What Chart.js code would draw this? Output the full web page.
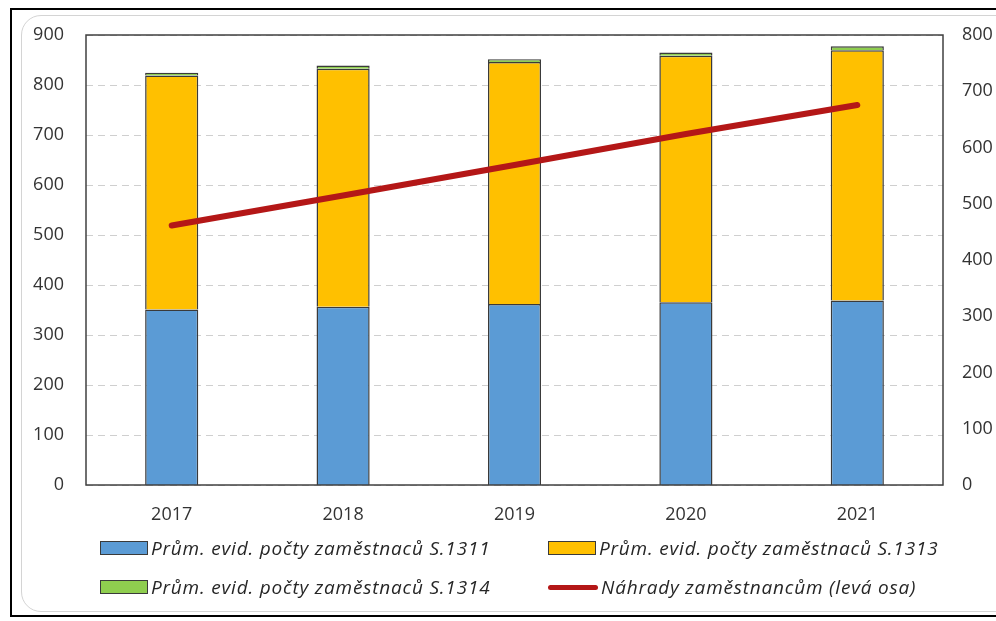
<!DOCTYPE html>
<html>
<head>
<meta charset="utf-8">
<script src="https://cdn.jsdelivr.net/npm/chart.js@4/dist/chart.umd.min.js"></script>
<style>
  html, body { margin: 0; padding: 0; background: #fff; overflow: hidden; }
  #wrap { position: relative; width: 996px; height: 621px; }
  .outer { position: absolute; left: 10px; top: 8px; width: 1000px; height: 609px; border: 2px solid #000; box-sizing: border-box; }
  .inner { position: absolute; left: 21px; top: 15px; width: 1000px; height: 597px; border: 1px solid #d4d4d4; border-radius: 20px; box-sizing: border-box; }
  canvas { position: absolute; left: 0; top: 0; }
  #legend { position: absolute; left: 0; top: 0; width: 996px; font-family: "Open Sans", sans-serif; font-style: italic; font-size: 19px; letter-spacing: 0.8px; color: #262626; }
  .item { position: absolute; display: flex; align-items: center; white-space: nowrap; }
  .box { width: 48px; height: 14px; border: 1.5px solid #3a3a3a; margin-right: 3px; box-sizing: border-box; }
  .ln { width: 50px; height: 5px; border-radius: 3px; margin-right: 3px; }
</style>
</head>
<body>
<div id="wrap">
  <div class="outer"></div>
  <div class="inner"></div>
  <canvas id="chart" width="996" height="621"></canvas>
  <div id="legend"></div>
</div>
<script>
// Roky a hodnoty
const roky = ['2017', '2018', '2019', '2020', '2021'];
const s1311 = [312, 317, 322, 325, 328];
const s1313 = [416, 423, 430, 438, 445];
const s1314 = [5, 6, 5, 6, 7];
const nahrady = [519, 579, 640, 702, 760];

const nazvy = [
    'Prům. evid. počty zaměstnaců S.1311',
    'Prům. evid. počty zaměstnaců S.1313',
    'Prům. evid. počty zaměstnaců S.1314',
    'Náhrady zaměstnancům (levá osa)'
];
const barvy = ['#5b9bd5', '#ffc000', '#8fce4f', '#b41717'];

const tickFont = { family: 'Open Sans', size: 18 };

// rámeček kolem plochy grafu
const ramecek = {
    id: 'ramecek',
    afterDatasetsDraw(chart) {
        const a = chart.chartArea;
        const ctx = chart.ctx;
        ctx.save();
        ctx.strokeStyle = '#404040';
        ctx.lineWidth = 1.5;
        ctx.strokeRect(a.left, a.top, a.right - a.left, a.bottom - a.top);
        ctx.restore();
    }
};

const data = {
    labels: roky,
    datasets: [
        {
            type: 'line',
            label: nazvy[3],
            data: nahrady,
            yAxisID: 'y',
            borderColor: barvy[3],
            borderWidth: 6,
            pointRadius: 0,
            borderCapStyle: 'round',
            order: 0
        },
        {
            type: 'bar',
            label: nazvy[0],
            data: s1311,
            yAxisID: 'y2',
            backgroundColor: barvy[0],
            borderColor: '#3a3a3a',
            borderWidth: 1.5,
            order: 1
        },
        {
            type: 'bar',
            label: nazvy[1],
            data: s1313,
            yAxisID: 'y2',
            backgroundColor: barvy[1],
            borderColor: '#3a3a3a',
            borderWidth: 1.5,
            order: 1
        },
        {
            type: 'bar',
            label: nazvy[2],
            data: s1314,
            yAxisID: 'y2',
            backgroundColor: barvy[2],
            borderColor: '#3a3a3a',
            borderWidth: 1.5,
            order: 1
        }
    ]
};

const config = {
    data: data,
    options: {
        responsive: false,
        animation: false,
        layout: { padding: { top: 35, bottom: 86, left: 0, right: 0 } },
        datasets: { bar: { barPercentage: 0.31, categoryPercentage: 1 } },
        plugins: { legend: { display: false }, tooltip: { enabled: false } },
        scales: {
            x: {
                stacked: true,
                grid: { display: false, drawTicks: false },
                border: { display: false },
                ticks: { font: tickFont, color: '#333333', padding: 19 },
                afterFit(s) { s.height = 50; }
            },
            y: {
                position: 'left',
                min: 0, max: 900,
                ticks: { stepSize: 100, font: tickFont, color: '#333333', padding: 22 },
                grid: { color: '#cfcfcf', drawTicks: false, lineWidth: 1 },
                border: { display: false, dash: [7, 5] },
                afterFit(s) { s.width = 86; }
            },
            y2: {
                position: 'right',
                stacked: true,
                min: 0, max: 800,
                ticks: { stepSize: 100, font: tickFont, color: '#333333', padding: 19 },
                grid: { display: false, drawTicks: false },
                border: { display: false },
                afterFit(s) { s.width = 53; }
            }
        }
    },
    plugins: [ramecek]
};

new Chart(document.getElementById('chart'), config);

// legenda ve dvou sloupcích
const pozice = [[100, 548], [548, 548], [100, 587], [548, 587]];
const legend = document.getElementById('legend');
[0, 1, 2, 3].forEach(function (i) {
    const el = document.createElement('div');
    el.className = 'item';
    el.style.left = pozice[i][0] + 'px';
    el.style.top = (pozice[i][1] - 13) + 'px';
    const sw = document.createElement('div');
    if (i === 3) {
        sw.className = 'ln';
    } else {
        sw.className = 'box';
    }
    sw.style.background = barvy[i];
    el.appendChild(sw);
    const t = document.createElement('span');
    t.textContent = nazvy[i];
    el.appendChild(t);
    legend.appendChild(el);
});
</script>
</body>
</html>
